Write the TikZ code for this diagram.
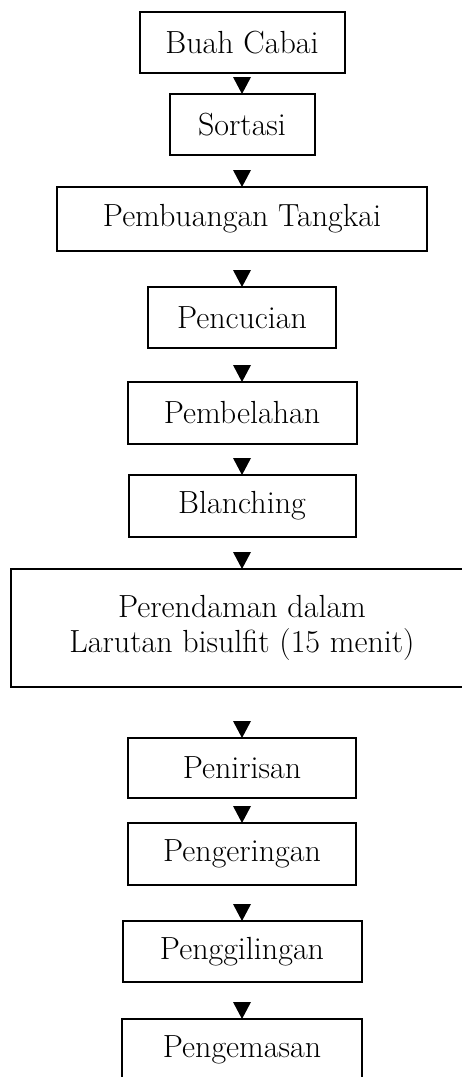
\documentclass[tikz,border=0pt]{standalone}
\usetikzlibrary{positioning,shapes.geometric}

\begin{document}
\begin{tikzpicture}[x=1pt, y=1pt, main/.style = {draw, line width=2pt, inner sep=0pt, outer sep=0pt, minimum height=61pt, align=center, font=\fontsize{32}{35}\selectfont}, head/.style = {isosceles triangle, isosceles triangle stretches, shape border rotate=270, fill, inner sep=0pt, outer sep=0pt, minimum width=18pt, minimum height=17pt, anchor=apex}]
\useasboundingbox (0,0) rectangle (461,-1077);
\node[main, minimum width=205pt] (1) at (242,-42.5) {Buah Cabai};
\node[main, minimum width=145pt] (2) [below=21pt of 1] {Sortasi};
\node[main, minimum width=370pt, minimum height=64pt] (3) [below=32pt of 2] {Pembuangan Tangkai};
\node[main, minimum width=188pt] (4) [below=36pt of 3] {Pencucian};
\node[main, minimum width=229pt, minimum height=62pt] (5) [below=34pt of 4] {Pembelahan};
\node[main, minimum width=227pt, minimum height=62pt] (6) [below=31pt of 5] {Blanching};
\node[main, minimum width=462pt, minimum height=118pt] (7) [below=32pt of 6] {Perendaman dalam\\Larutan bisulfit (15 menit)};
\node[main, minimum width=228pt, minimum height=60pt] (8) [below=51pt of 7] {Penirisan};
\node[main, minimum width=228pt, minimum height=62pt] (9) [below=25pt of 8] {Pengeringan};
\node[main, minimum width=239pt] (10) [below=36pt of 9] {Penggilingan};
\node[main, minimum width=240pt, minimum height=62pt] (11) [below=37pt of 10] {Pengemasan};
\path (1) -- node[head, pos=1] {} (2);
\path (2) -- node[head, pos=1] {} (3);
\path (3) -- node[head, pos=1] {} (4);
\path (4) -- node[head, pos=1] {} (5);
\path (5) -- node[head, pos=1] {} (6);
\path (6) -- node[head, pos=1] {} (7);
\path (7) -- node[head, pos=1] {} (8);
\path (8) -- node[head, pos=1] {} (9);
\path (9) -- node[head, pos=1] {} (10);
\path (10) -- node[head, pos=1] {} (11);
\end{tikzpicture}
\end{document}
